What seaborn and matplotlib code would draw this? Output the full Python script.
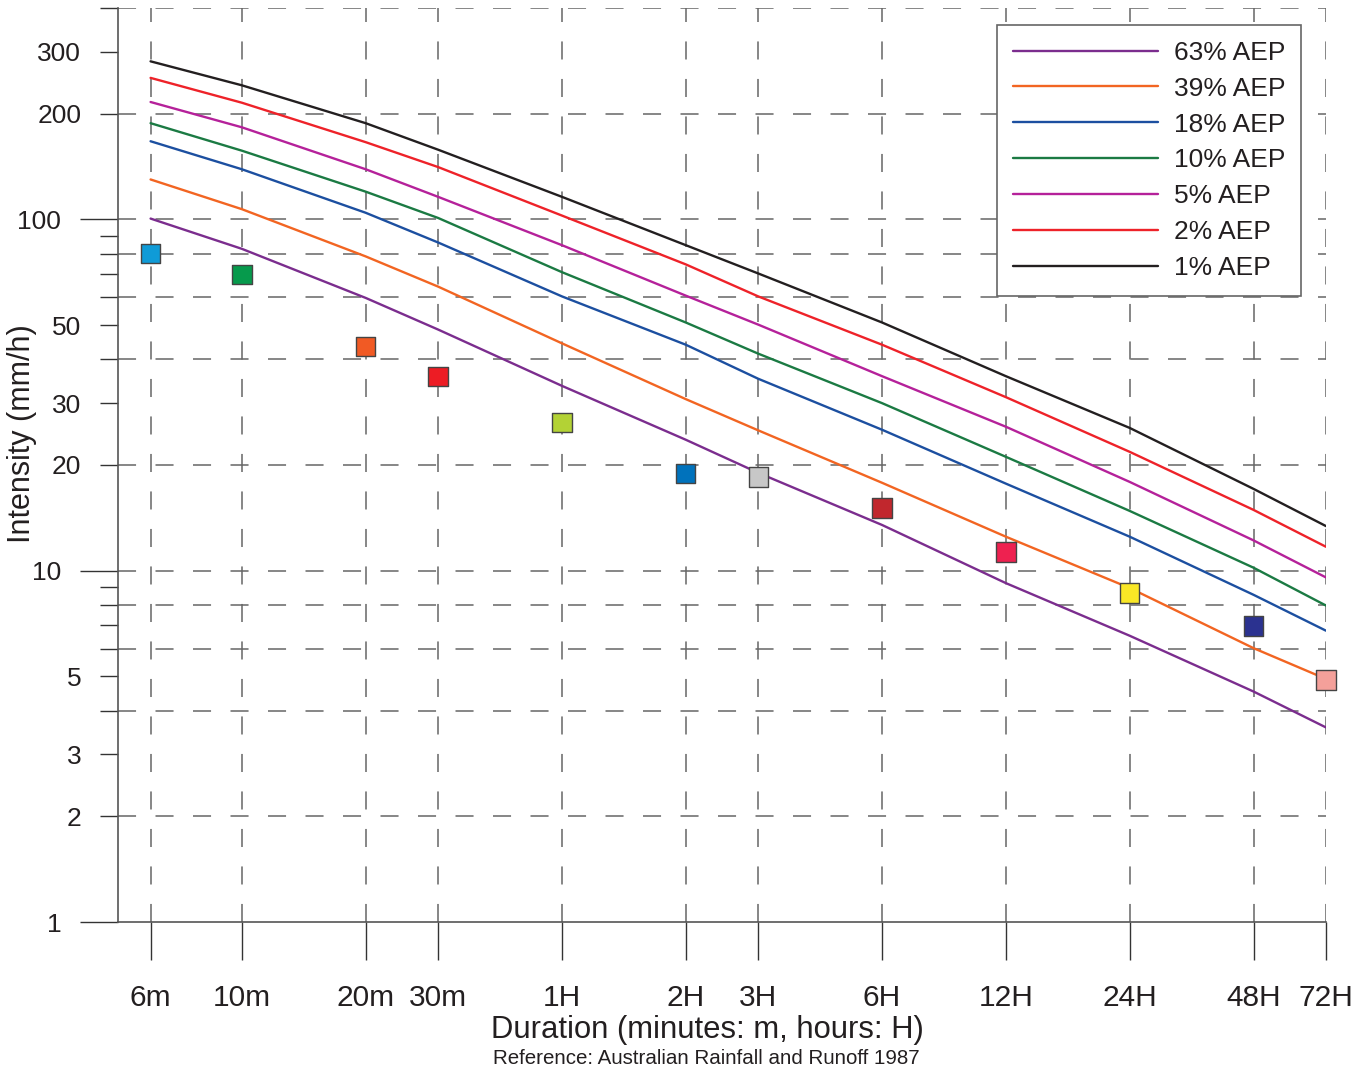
import numpy as np
import pandas as pd
import matplotlib
matplotlib.use("Agg")
import matplotlib.pyplot as plt
import matplotlib.ticker as mticker
import seaborn as sns

# durations in minutes and their labels
durations = [6, 10, 20, 30, 60, 120, 180, 360, 720, 1440, 2880, 4320]
duration_labels = ['6m', '10m', '20m', '30m', '1H', '2H', '3H', '6H', '12H', '24H', '48H', '72H']

# IFD curves (mm/h)
aep_63 = [100.6, 82.5, 59.8, 48.6, 33.6, 23.6, 19.0, 13.5, 9.22, 6.53, 4.53, 3.58]
aep_39 = [130, 107, 78.5, 64.4, 44.4, 30.8, 25.1, 17.8, 12.5, 8.93, 6.02, 4.92]
aep_18 = [167, 139, 104.5, 86, 60.4, 44, 35.2, 25.2, 17.7, 12.5, 8.54, 6.75]
aep_10 = [188, 157, 120, 101, 70.8, 50.9, 41.5, 30.0, 21.1, 14.8, 10.2, 7.96]
aep_5 = [216, 183, 139, 116, 84.5, 60.7, 50.2, 35.8, 25.7, 17.9, 12.2, 9.57]
aep_2 = [253, 215, 166, 141, 102.6, 74.5, 60.4, 44, 31.2, 21.8, 14.9, 11.7]
aep_1 = [282, 241, 188, 158, 116, 84.5, 70.2, 50.9, 35.8, 25.5, 17.1, 13.4]

series_names = ['63% AEP', '39% AEP', '18% AEP', '10% AEP', '5% AEP', '2% AEP', '1% AEP']
series_colors = ['#7b2d8e', '#f26522', '#1c4fa0', '#1b7a43', '#b5219a', '#ee2229', '#231f20']

# observed points (squares), one per duration
obs_vals = [80, 69.7, 43.5, 35.7, 26.4, 18.9, 18.5, 15.1, 11.3, 8.65, 6.97, 4.89]
obs_colors = ['#0f9bd7', '#069a4c', '#f15a24', '#ed1c24', '#b3d235', '#0072bc',
              '#c7c7c7', '#c1272d', '#ee2150', '#f9e726', '#2b3290', '#f4a09a']

y_labels_at = [1, 2, 3, 5, 10, 20, 30, 50, 100, 200, 300]
y_grid_at = [2, 4, 6, 8, 10, 20, 40, 60, 80, 100, 200, 400]

sns.set_theme(style='white')
plt.rcParams['font.family'] = ['Liberation Sans', 'DejaVu Sans']
plt.rcParams['lines.scale_dashes'] = False

rows = []
for name, vals in zip(series_names, [aep_63, aep_39, aep_18, aep_10, aep_5, aep_2, aep_1]):
    for d, v in zip(durations, vals):
        rows.append({'duration': d, 'intensity': v, 'series': name})
df = pd.DataFrame(rows)
obs = pd.DataFrame({'duration': durations, 'intensity': obs_vals, 'label': duration_labels})

fig = plt.figure(figsize=(13.72, 10.75), dpi=100)
ax = fig.add_axes([118/1372, 1-922/1075, (1326-118)/1372, (922-8)/1075])

ax.set_xscale('log')
ax.set_yscale('log')
ax.set_xlim(5, 4320)
ax.set_ylim(1, 400)

dash = (0, (13, 14))
grid_col = '#666666'
for g in y_grid_at:
    ax.axhline(g, color=grid_col, lw=1.1, ls=dash, zorder=1)
for d in durations:
    ax.axvline(d, color=grid_col, lw=1.1, ls=dash, zorder=1)

sns.lineplot(data=df, x='duration', y='intensity', hue='series', palette=series_colors,
             hue_order=series_names, lw=1.7, ax=ax, zorder=3)
sns.scatterplot(data=obs, x='duration', y='intensity', hue='label', palette=obs_colors,
                marker='s', s=195, edgecolor='#444444', linewidth=1.0, legend=False,
                ax=ax, zorder=4, clip_on=False)

ax.set_xticks(durations)
ax.set_xticklabels(duration_labels)
ax.xaxis.set_minor_locator(mticker.NullLocator())
ax.yaxis.set_major_locator(mticker.FixedLocator([1, 10, 100]))
ax.yaxis.set_minor_locator(mticker.LogLocator(base=10, subs=np.arange(2, 10), numticks=20))
ax.yaxis.set_major_formatter(mticker.FuncFormatter(lambda v, p: f'{v:g}'))
ax.yaxis.set_minor_formatter(mticker.FuncFormatter(
    lambda v, p: f'{v:g}' if any(np.isclose(v, y_labels_at)) else ''))

ax.tick_params(axis='x', which='major', direction='out', length=27.4, width=1.0, bottom=True,
               color='#333333', pad=17, labelsize=21.5, labelcolor='#231f20')
ax.tick_params(axis='y', which='major', direction='out', length=27.4, width=1.0, left=True,
               color='#333333', pad=13.5, labelsize=19, labelcolor='#231f20')
ax.tick_params(axis='y', which='minor', direction='out', length=13, width=1.0, left=True,
               color='#333333', pad=13.5, labelsize=19, labelcolor='#231f20')

sns.despine(ax=ax)
for s in ['left', 'bottom']:
    ax.spines[s].set_color('#555555')
    ax.spines[s].set_linewidth(1.2)

ax.set_xlabel('')
ax.set_ylabel('')
fig.text(22/1372, 1-434/1075, 'Intensity (mm/h)', rotation=90, ha='center', va='center',
         fontsize=22, color='#231f20')
fig.text(707/1372, 1-1030/1075, 'Duration (minutes: m, hours: H)', ha='center', va='center',
         fontsize=22.3, color='#231f20')
fig.text(706/1372, 1-1058/1075, 'Reference: Australian Rainfall and Runoff 1987',
         ha='center', va='center', fontsize=14.8, color='#231f20')

leg = ax.legend(loc='upper left', bbox_to_anchor=((997-118)/1208, (922-25)/914),
                borderaxespad=0, fontsize=19, frameon=True, fancybox=False,
                handlelength=5.5, handletextpad=0.6, borderpad=0.6, labelspacing=0.45,
                edgecolor='#666666', framealpha=1)
leg.get_frame().set_linewidth(1.2)
for t in leg.get_texts():
    t.set_color('#231f20')
for h in leg.get_lines():
    h.set_linewidth(1.7)

fig.savefig('out.png', dpi=100)
